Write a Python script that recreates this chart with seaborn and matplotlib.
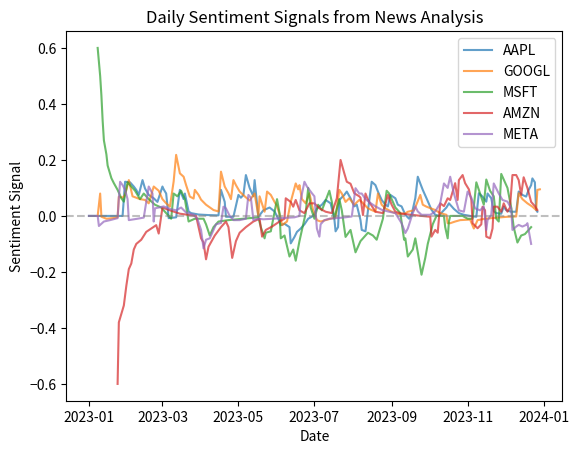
import seaborn as sns
import matplotlib.pyplot as plt
import pandas as pd

plt.rcParams['font.family'] = ['Noto Sans CJK JP', 'DejaVu Sans']

start = pd.Timestamp('2023-01-01')
tickers = ['AAPL', 'GOOGL', 'MSFT', 'AMZN', 'META']

# day offsets from 2023-01-01 and signal values
aapl_days = [0, 27, 29, 33, 36, 38, 40, 43, 45, 48, 52, 55, 59, 60, 62, 64, 70, 73, 76, 77,
             80, 82, 88, 96, 104, 106, 109, 110, 116, 120, 122, 124, 126, 129, 132, 133, 136, 140, 145, 149,
             152, 154, 157, 161, 162, 165, 167, 170, 173, 176, 180, 183, 187, 190, 194, 197, 198, 200, 201, 205,
             207, 210, 213, 215, 218, 219, 222, 224, 227, 230, 232, 235, 238, 240, 242, 246, 248, 251, 254, 257,
             259, 262, 264, 266, 268, 271, 275, 278, 281, 284, 287, 289, 291, 293, 297, 301, 306, 311, 313, 316,
             319, 320, 323, 325, 327, 331, 333, 335, 339, 343, 345, 348, 351, 353, 355, 356, 358, 359, 360]
aapl_vals = [0.0, 0.0, 0.122, 0.12, 0.105, 0.093, 0.075, 0.128, 0.098, 0.075,
             0.063, 0.05, 0.105, 0.095, 0.08, -0.008, -0.005, 0.093, 0.06, 0.08,
             0.016, 0.01, 0.005, 0.003, 0.002, 0.093, 0.05, -0.003, -0.003, 0.075,
             0.065, 0.075, 0.146, 0.10, 0.07, 0.128, -0.003, 0.02, 0.03, 0.016,
             -0.01, -0.033, -0.028, -0.04, -0.098, -0.075, -0.057, -0.045, -0.03, -0.01,
             0.0, 0.027, 0.04, 0.057, 0.045, -0.01, -0.055, -0.04, 0.057, 0.075,
             0.087, 0.063, 0.034, 0.04, -0.015, -0.05, -0.055, 0.02, 0.122, 0.11,
             0.087, 0.057, 0.04, 0.034, 0.075, 0.063, 0.04, 0.034, 0.004, -0.01,
             0.004, 0.063, 0.14, 0.116, 0.093, 0.063, 0.022, 0.004, 0.0, 0.016,
             0.03, 0.045, 0.035, 0.025, 0.01, 0.004, 0.0, -0.003, 0.081, 0.069,
             0.051, 0.08, 0.063, 0.016, 0.01, 0.008, 0.033, 0.02, 0.015, 0.015,
             0.087, 0.075, 0.069, 0.093, 0.11, 0.134, 0.12, 0.021, 0.015]

googl_days = [7, 9, 10, 14, 19, 23, 24, 27, 29, 32, 35, 41, 45, 48, 52, 56, 59, 62, 65, 68,
              70, 73, 76, 78, 81, 84, 85, 88, 90, 94, 100, 104, 106, 109, 112, 114, 116, 118, 121, 125,
              129, 133, 136, 137, 141, 143, 146, 149, 151, 154, 155, 159, 162, 166, 168, 169, 171, 174, 177, 180,
              183, 186, 190, 194, 198, 201, 203, 206, 209, 213, 217, 219, 224, 230, 232, 235, 238, 243, 248, 254,
              256, 261, 266, 268, 271, 278, 282, 287, 288, 290, 294, 298, 306, 309, 312, 317, 323, 328, 336, 343,
              345, 348, 352, 356, 359, 360, 362]
googl_vals = [0.0, 0.08, -0.003, -0.01, -0.008, -0.005, 0.069, 0.065, 0.075, 0.128,
              0.07, 0.06, 0.057, 0.045, 0.105, 0.09, 0.06, 0.045, 0.033, 0.123,
              0.218, 0.152, 0.14, 0.11, 0.069, 0.062, 0.093, 0.075, 0.058, 0.04,
              0.021, 0.016, 0.158, 0.105, 0.081, 0.06, 0.128, 0.11, 0.087, 0.07,
              0.055, 0.08, 0.0, 0.07, 0.015, 0.087, 0.075, 0.05, 0.035, -0.008,
              -0.033, -0.02, 0.05, 0.116, 0.095, 0.11, 0.06, 0.045, 0.081, 0.02,
              -0.015, -0.02, -0.015, -0.01, -0.005, 0.093, 0.08, 0.05, 0.063, 0.04,
              0.057, 0.05, 0.027, 0.015, 0.08, 0.04, 0.027, 0.015, 0.007, 0.009,
              0.015, 0.02, 0.075, 0.04, 0.033, 0.021, 0.01, 0.004, -0.026, -0.026,
              -0.02, -0.015, -0.013, -0.045, -0.015, -0.011, -0.008, -0.006, -0.003, -0.002,
              0.081, 0.06, 0.045, 0.033, 0.021, 0.093, 0.095]

msft_days = [7, 9, 10, 11, 12, 14, 15, 18, 20, 23, 26, 28, 31, 33, 37, 41, 44, 48, 53, 58, 62,
             66, 68, 71, 74, 77, 80, 85, 92, 94, 97, 100, 104, 112, 124, 136, 138, 141, 142, 146, 151,
             153, 154, 157, 161, 164, 166, 169, 172, 174, 176, 178, 181, 184, 187, 193, 195, 197, 201, 203, 206,
             210, 214, 218, 222, 224, 228, 231, 234, 236, 239, 241, 243, 246, 250, 253, 254, 256, 260, 262, 264,
             267, 270, 272, 276, 279, 285, 286, 288, 289, 290, 300, 304, 308, 311, 314, 317, 319, 322, 325, 327,
             329, 331, 334, 336, 339, 341, 344, 347, 350, 353, 355]
msft_vals = [0.60, 0.50, 0.43, 0.34, 0.27, 0.22, 0.18, 0.135, 0.117, 0.093, 0.063,
             0.051, 0.12, 0.11, 0.09, 0.06, 0.08, 0.06, 0.04, 0.03, 0.01,
             -0.01, 0.08, 0.07, 0.09, 0.06, -0.02, -0.01, -0.01, -0.03, -0.07,
             -0.04, -0.02, -0.015, -0.01, -0.005, -0.04, -0.08, -0.06, -0.055, 0.06,
             0.01, -0.08, -0.07, -0.145, -0.12, -0.16, -0.09, -0.03, 0.01, 0.10,
             0.03, -0.01, 0.04, 0.02, 0.09, 0.05, -0.01, 0.06, 0.02, -0.075,
             -0.05, -0.13, -0.09, -0.07, -0.06, -0.07, -0.085, -0.04, -0.01, 0.09,
             0.08, 0.06, 0.03, 0.01, -0.085, -0.08, -0.145, -0.12, -0.08, -0.13,
             -0.21, -0.15, -0.10, -0.03, 0.0, 0.0, -0.04, -0.08, -0.02, 0.0,
             0.0, -0.01, -0.01, 0.12, 0.08, 0.04, 0.13, 0.09, 0.07, -0.01,
             -0.02, 0.15, 0.12, 0.10, 0.03, -0.04, -0.095, -0.07, -0.065, -0.05, -0.04]

amzn_days = [23, 24, 26, 28, 30, 32, 34, 36, 38, 42, 46, 50, 54, 56, 59, 65, 73, 86, 88, 90,
             92, 94, 96, 101, 106, 110, 112, 115, 118, 121, 126, 132, 137, 139, 142, 147, 153, 157, 158, 162,
             164, 166, 169, 173, 177, 181, 185, 190, 195, 199, 202, 205, 207, 210, 213, 217, 218, 220, 222, 224,
             230, 236, 240, 243, 246, 251, 259, 267, 274, 275, 278, 280, 282, 285, 288, 290, 294, 296, 297, 300,
             302, 305, 307, 308, 312, 315, 316, 318, 319, 322, 324, 325, 328, 331, 333, 336, 338, 340, 343, 345,
             347, 349, 352, 355, 358, 360]
amzn_vals = [-0.60, -0.38, -0.35, -0.32, -0.25, -0.19, -0.17, -0.12, -0.10, -0.085,
             -0.057, -0.045, -0.033, -0.063, 0.03, 0.02, 0.008, 0.0, -0.04, -0.08,
             -0.095, -0.155, -0.11, -0.07, -0.04, -0.02, -0.04, -0.15, -0.09, -0.06,
             -0.04, -0.02, -0.01, -0.074, -0.05, -0.038, -0.02, -0.01, 0.063, 0.05,
             0.033, 0.057, 0.02, 0.01, 0.045, 0.045, 0.027, 0.015, 0.01, 0.063,
             0.20, 0.152, 0.122, 0.115, 0.081, 0.07, 0.065, 0.003, 0.08, 0.057,
             0.015, 0.01, 0.075, 0.04, 0.015, 0.008, 0.004, 0.0, -0.003, -0.074,
             -0.05, -0.06, 0.045, 0.035, 0.063, 0.057, 0.117, 0.057, 0.128, 0.146,
             0.117, 0.095, 0.057, -0.026, -0.044, -0.03, 0.033, 0.02, -0.074, -0.08,
             -0.045, 0.033, 0.033, 0.015, 0.045, 0.015, 0.03, 0.146, 0.146, 0.128,
             0.075, 0.138, 0.10, 0.05, 0.035, 0.021]

meta_days = [0, 7, 8, 12, 17, 23, 24, 25, 27, 29, 31, 32, 39, 44, 48, 51, 52, 53, 60, 65,
             70, 74, 78, 84, 87, 90, 92, 94, 97, 100, 102, 106, 108, 110, 113, 116, 121, 126, 128, 130,
             132, 136, 140, 148, 157, 165, 169, 170, 173, 175, 179, 181, 183, 185, 186, 189, 193, 198, 204, 211,
             214, 217, 219, 222, 226, 230, 235, 240, 246, 251, 254, 256, 259, 262, 264, 267, 274, 278, 282, 285,
             288, 290, 293, 297, 301, 304, 307, 310, 314, 317, 319, 320, 323, 325, 329, 332, 336, 339, 340, 343,
             345, 348, 351, 352, 355]
meta_vals = [0.0, 0.0, -0.036, -0.02, -0.015, -0.008, 0.063, 0.122, 0.11, 0.093,
             0.06, -0.015, -0.01, -0.006, 0.105, 0.08, -0.02, 0.027, 0.034, 0.025,
             0.02, 0.03, 0.012, 0.004, -0.01, -0.05, -0.116, -0.085, -0.08, -0.05,
             -0.03, -0.025, 0.033, 0.027, 0.0, -0.015, -0.015, -0.01, 0.075, 0.065,
             -0.015, -0.01, -0.012, -0.01, -0.007, -0.005, 0.0, 0.057, 0.122, 0.105,
             0.081, 0.07, -0.045, -0.074, -0.03, -0.015, -0.01, -0.008, -0.006, -0.002,
             0.099, 0.08, 0.08, 0.06, 0.046, 0.034, 0.022, 0.016, 0.01, -0.026,
             -0.061, -0.045, -0.003, 0.034, 0.016, 0.004, 0.004, 0.016, 0.045, 0.116,
             0.10, 0.14, 0.08, 0.02, 0.015, 0.087, 0.065, 0.027, 0.02, 0.033,
             -0.05, -0.015, 0.004, 0.116, 0.08, 0.057, 0.051, 0.027, -0.05, -0.038,
             -0.032, -0.038, -0.032, -0.026, -0.10]

series = {
    'AAPL': (aapl_days, aapl_vals),
    'GOOGL': (googl_days, googl_vals),
    'MSFT': (msft_days, msft_vals),
    'AMZN': (amzn_days, amzn_vals),
    'META': (meta_days, meta_vals),
}

frames = []
for name, (days, vals) in series.items():
    frames.append(pd.DataFrame({
        'Date': start + pd.to_timedelta(days, unit='D'),
        'Signal': vals,
        'Ticker': name,
    }))
df = pd.concat(frames, ignore_index=True)

fig, ax = plt.subplots(figsize=(6.4, 4.8), dpi=100)
sns.lineplot(data=df, x='Date', y='Signal', hue='Ticker', hue_order=tickers,
             palette='tab10', alpha=0.7, linewidth=1.5, estimator=None, ax=ax)
ax.axhline(0, color='gray', linestyle='--', alpha=0.5)

ax.set_title('Daily Sentiment Signals from News Analysis')
ax.set_xlabel('Date')
ax.set_ylabel('Sentiment Signal')
ax.legend(loc='upper right')

plt.savefig('out.png', bbox_inches='tight')
